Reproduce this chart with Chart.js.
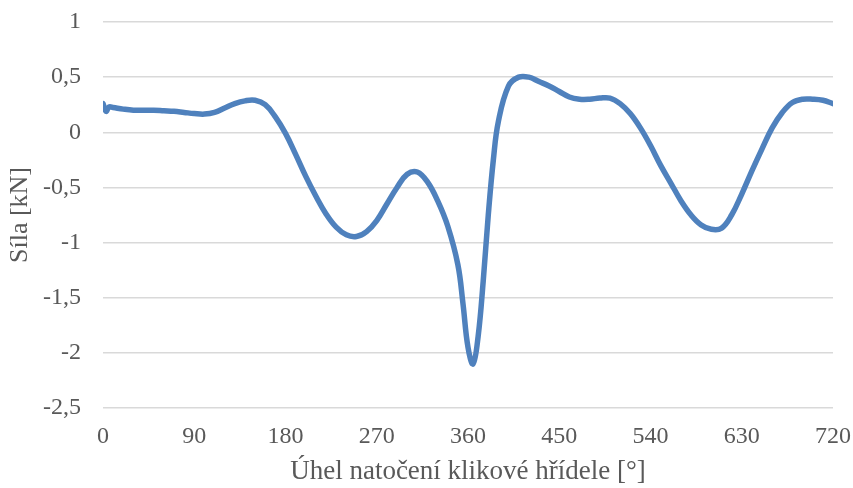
<!DOCTYPE html>
<html>
<head>
<meta charset="utf-8">
<script src="https://cdn.jsdelivr.net/npm/chart.js@4.4.0/dist/chart.umd.min.js"></script>
<style>
  html, body { margin: 0; padding: 0; background: #fff; }
  #wrap { width: 853px; height: 488px; }
</style>
</head>
<body>
<div id="wrap"><canvas id="graf" width="853" height="488"></canvas></div>
<script>
// úhel natočení klikové hřídele [°]
const uhel = [0, 3, 6, 10, 20, 30, 40, 50, 60, 70, 80, 90, 100, 110, 120, 130, 140, 150, 160, 170,
  180, 190, 200, 210, 220, 230, 240, 250, 260, 270, 280, 290, 300, 310, 320, 330, 340, 350, 355,
  360, 365, 370, 375, 380, 385, 390, 400, 410, 420, 430, 440, 450, 460, 470, 480, 490, 500, 510,
  520, 530, 540, 550, 560, 570, 580, 590, 600, 610, 620, 630, 640, 650, 660, 670, 680, 690, 700,
  710, 720];
// síla [kN]
const sila = [0.26, 0.19, 0.23, 0.225, 0.21, 0.20, 0.20, 0.20, 0.195, 0.19, 0.18, 0.17, 0.165, 0.18,
  0.22, 0.26, 0.285, 0.29, 0.25, 0.14, -0.01, -0.2, -0.4, -0.58, -0.74, -0.86, -0.93, -0.945, -0.9,
  -0.8, -0.65, -0.5, -0.38, -0.36, -0.45, -0.62, -0.85, -1.2, -1.55, -1.95, -2.1, -1.85, -1.35,
  -0.75, -0.25, 0.1, 0.42, 0.5, 0.5, 0.46, 0.42, 0.37, 0.32, 0.3, 0.3, 0.31, 0.31, 0.26, 0.17,
  0.04, -0.12, -0.3, -0.46, -0.62, -0.75, -0.84, -0.88, -0.87, -0.75, -0.56, -0.35, -0.15, 0.04,
  0.18, 0.27, 0.3, 0.3, 0.29, 0.26];

const popisX = 'Úhel natočení klikové hřídele [°]';
const popisY = 'Síla [kN]';

const pismo = 'Liberation Serif, Times New Roman, serif';
const sedaText = '#595959';

const body = uhel.map((u, i) => ({ x: u, y: sila[i] }));

new Chart(document.getElementById('graf'), {
  type: 'line',
  data: {
    datasets: [{
      data: body,
      borderColor: '#4f81bd',
      borderWidth: 5.5,
      pointRadius: 0,
      fill: false,
      tension: 0.4,
      borderCapStyle: 'round',
      borderJoinStyle: 'round'
    }]
  },
  options: {
    responsive: false,
    animation: false,
    layout: { padding: { top: 22, right: 20, left: 0, bottom: 0 } },
    plugins: { legend: { display: false }, tooltip: { enabled: false } },
    scales: {
      x: {
        type: 'linear',
        min: 0, max: 720,
        ticks: { stepSize: 90, color: sedaText, font: { family: pismo, size: 24 }, padding: 14, maxRotation: 0 },
        grid: { display: false, drawTicks: false },
        border: { display: false },
        title: { display: true, text: popisX, color: sedaText, font: { family: pismo, size: 27 }, padding: { top: 0, bottom: 0 } },
        afterFit: s => { s.height = 80; s.paddingLeft = 0; s.paddingRight = 0; }
      },
      y: {
        min: -2.5, max: 1,
        ticks: {
          stepSize: 0.5, color: sedaText, font: { family: pismo, size: 24 }, padding: 22,
          callback: v => String(v).replace('.', ',')
        },
        grid: { color: '#d9d9d9', lineWidth: 1.5, drawTicks: false },
        border: { display: false },
        title: { display: true, text: popisY, color: sedaText, font: { family: pismo, size: 26 }, padding: { top: 5, bottom: 0 } },
        afterFit: s => { s.width = 103; s.paddingTop = 0; s.paddingBottom = 0; }
      }
    }
  }
});
</script>
</body>
</html>
